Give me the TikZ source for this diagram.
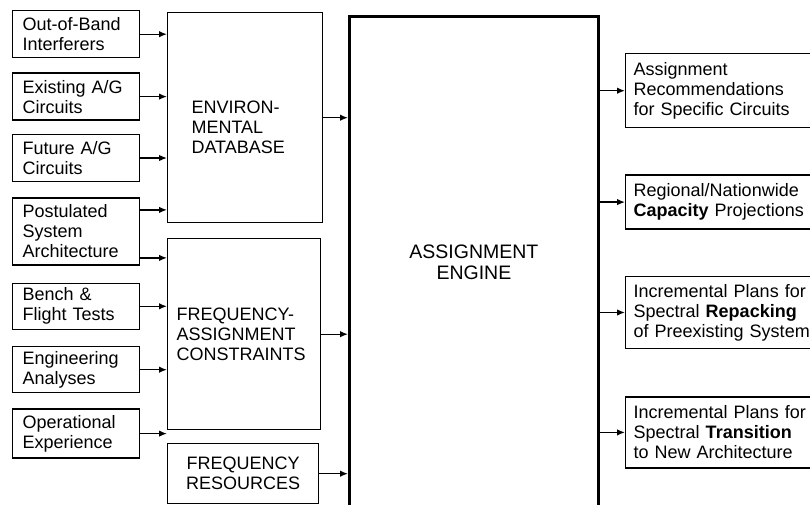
\documentclass[tikz,border=0pt]{standalone}
\usepackage{fontspec}
\setmainfont{Liberation Sans}
\usetikzlibrary{
	arrows.meta,
	positioning
}

\begin{document}
\begin{tikzpicture}[
				x=1pt, y=-1pt,
				every node/.style={font=\fontsize{18}{20}\selectfont},
				inbox/.style={
					rectangle, draw, line width=1.4pt,
					text width=107pt, inner xsep=10pt, inner ysep=2pt,
					minimum height=47pt, align=left
				},
				midbox/.style={
					rectangle, draw, line width=1.4pt, inner ysep=2pt
				},
				outbox/.style={
					rectangle, draw, line width=1.4pt,
					text width=194pt, inner xsep=8pt, inner ysep=2pt,
					align=left
				},
				enginebox/.style={
					rectangle, draw, line width=2.8pt, align=center,
					font=\fontsize{19.5}{21}\selectfont
				},
				arrow/.style={-{Latex[length=8pt,width=6.5pt]}, line width=1.4pt}
				]
				\useasboundingbox (0,0) rectangle (810,504);
				
				% inputs
				\node[inbox, anchor=north west] (oob) at (12,10) {Out-of-Band\\Interferers};
				\node[inbox, below=14pt of oob] (existing) {Existing A/G\\Circuits};
				\node[inbox, below=13pt of existing] (future) {Future A/G\\Circuits};
				\node[inbox, below=15pt of future, minimum height=67pt] (postulated) {Postulated\\System\\Architecture};
				\node[inbox, below=17pt of postulated, minimum height=46pt] (bench) {Bench \&\\Flight Tests};
				\node[inbox, below=16pt of bench, minimum height=46pt] (engineering) {Engineering\\Analyses};
				\node[inbox, below=15pt of engineering, minimum height=49pt] (operational) {Operational\\Experience};
				
				% database
				\node[midbox, anchor=north west, minimum width=155pt, minimum height=210pt] (database) at (167,12) {};
				\node[anchor=west, align=left] (databasetext) at (188,127) {ENVIRON-\\MENTAL\\DATABASE};
				
				% constraints
				\node[midbox, anchor=north west, minimum width=153pt, minimum height=191pt,
					text width=135pt, inner xsep=9pt, align=left] (constraints) at (167,238) {FREQUENCY-\\ASSIGNMENT\\CONSTRAINTS};
				
				% resources
				\node[midbox, anchor=north west, minimum width=151pt, minimum height=60pt, align=center] (resources) at (167,443) {FREQUENCY\\RESOURCES};
				
				% engine
				\node[enginebox, anchor=north west, minimum width=249pt, minimum height=492pt] (engine) at (348,15) {ASSIGNMENT\\ENGINE};
				
				% outputs
				\node[outbox, anchor=north west, minimum height=74pt] (recommend) at (625,53) {Assignment\\Recommendations\\for Specific Circuits};
				\node[outbox, below=46pt of recommend, minimum height=54pt] (capacity) {Regional/Nationwide\\\textbf{Capacity} Projections};
				\node[outbox, below=46pt of capacity, minimum height=72pt] (repacking) {Incremental Plans for\\Spectral \textbf{Repacking}\\of Preexisting System};
				\node[outbox, below=47pt of repacking, minimum height=71pt] (transition) {Incremental Plans for\\Spectral \textbf{Transition}\\to New Architecture};
				
				% inputs to database and constraints
				\draw[arrow] (oob.east) -- (oob.east -| database.west);
				\draw[arrow] (existing.east) -- (existing.east -| database.west);
				\draw[arrow] (future.east) -- (future.east -| database.west);
				\draw[arrow] ([yshift=21.5pt]postulated.east) -- ([yshift=21.5pt]postulated.east -| database.west);
				\draw[arrow] ([yshift=-26.5pt]postulated.east) -- ([yshift=-26.5pt]postulated.east -| constraints.west);
				\draw[arrow] (bench.east) -- (bench.east -| constraints.west);
				\draw[arrow] (engineering.east) -- (engineering.east -| constraints.west);
				\draw[arrow] (operational.east) -- (operational.east -| constraints.west);
				
				% into the engine
				\draw[arrow] (database.east) -- (database.east -| engine.west);
				\draw[arrow] (constraints.east) -- (constraints.east -| engine.west);
				\draw[arrow] (resources.east) -- (resources.east -| engine.west);
				
				% engine to outputs
				\draw[arrow] (recommend.west -| engine.east) -- (recommend.west);
				\draw[arrow] (capacity.west -| engine.east) -- (capacity.west);
				\draw[arrow] (repacking.west -| engine.east) -- (repacking.west);
				\draw[arrow] (transition.west -| engine.east) -- (transition.west);
			\end{tikzpicture}
\end{document}
